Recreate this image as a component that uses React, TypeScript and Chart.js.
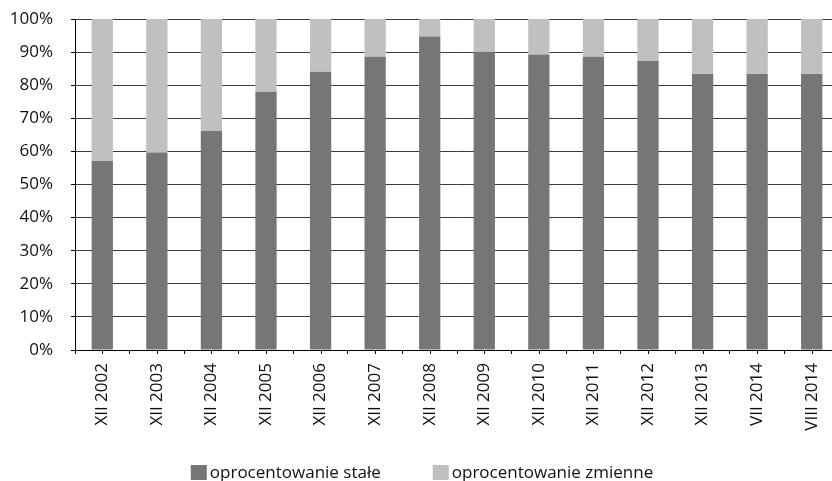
import React, { useEffect, useRef } from "react";
import { Chart, registerables } from "chart.js";

Chart.register(...registerables);

const categories = [
  "XII 2002", "XII 2003", "XII 2004", "XII 2005", "XII 2006", "XII 2007", "XII 2008",
  "XII 2009", "XII 2010", "XII 2011", "XII 2012", "XII 2013", "VII 2014", "VIII 2014",
];

// share of fixed-rate loans (%)
const fixedRate = [57.1, 59.7, 66.2, 78.0, 84.1, 88.6, 94.7, 90.1, 89.3, 88.6, 87.3, 83.4, 83.4, 83.4];
// share of variable-rate loans (%)
const variableRate = [42.9, 40.3, 33.8, 22.0, 15.9, 11.4, 5.3, 9.9, 10.7, 11.4, 12.7, 16.6, 16.6, 16.6];

const seriesNames = ["oprocentowanie stałe", "oprocentowanie zmienne"];
const seriesColors = ["#767676", "#c0c0c0"];

const FONT = "'Open Sans', 'DejaVu Sans', sans-serif";
const TEXT = "#111";

// short marks under each category centre on the x axis
const centerTicks = {
  id: "centerTicks",
  afterDraw(chart: any) {
    const { ctx, chartArea } = chart;
    const xs = chart.scales.x;
    ctx.save();
    ctx.strokeStyle = "#000";
    ctx.lineWidth = 1;
    for (let i = 0; i < categories.length; i++) {
      const px = Math.round(xs.getPixelForValue(i)) + 0.5;
      ctx.beginPath();
      ctx.moveTo(px, chartArea.bottom);
      ctx.lineTo(px, chartArea.bottom + 4);
      ctx.stroke();
    }
    ctx.restore();
  },
};

// legend row at the bottom
const bottomLegend = {
  id: "bottomLegend",
  afterDraw(chart: any) {
    const { ctx } = chart;
    ctx.save();
    ctx.font = `17px ${FONT}`;
    ctx.textBaseline = "alphabetic";
    const boxW = 16;
    const boxH = 15;
    const gap = 3;
    const itemGap = 52;
    const widths = chart.data.datasets.map((d: any) => boxW + gap + ctx.measureText(d.label).width);
    const total = widths.reduce((a: number, b: number) => a + b, 0) + itemGap * (widths.length - 1);
    let x = 422 - total / 2;
    chart.data.datasets.forEach((d: any, i: number) => {
      ctx.fillStyle = d.backgroundColor;
      ctx.fillRect(x, 465, boxW, boxH);
      ctx.fillStyle = TEXT;
      ctx.fillText(d.label, x + boxW + gap, 478);
      x += widths[i] + itemGap;
    });
    ctx.restore();
  },
};

export default function App() {
  const ref = useRef<HTMLCanvasElement>(null);

  useEffect(() => {
    if (!ref.current) return;
    const chart = new Chart(ref.current, {
      type: "bar",
      data: {
        labels: categories,
        datasets: [
          {
            label: seriesNames[0],
            data: fixedRate,
            backgroundColor: seriesColors[0],
            barPercentage: 0.39,
            categoryPercentage: 1,
          },
          {
            label: seriesNames[1],
            data: variableRate,
            backgroundColor: seriesColors[1],
            barPercentage: 0.39,
            categoryPercentage: 1,
          },
        ],
      },
      options: {
        responsive: false,
        animation: false,
        layout: { padding: { top: 19, right: 6, bottom: 36, left: 0 } },
        plugins: {
          legend: { display: false },
          tooltip: { enabled: false },
        },
        scales: {
          x: {
            stacked: true,
            grid: {
              offset: true,
              drawOnChartArea: false,
              drawTicks: true,
              tickLength: 4,
              tickColor: "#000",
            },
            border: { display: true, color: "#000", width: 1 },
            ticks: {
              maxRotation: 90,
              minRotation: 90,
              padding: 9,
              color: TEXT,
              font: { family: FONT, size: 17 },
              autoSkip: false,
            },
            afterFit(scale: any) {
              scale.height = 95;
              scale.paddingLeft = 0;
              scale.paddingRight = 0;
            },
          },
          y: {
            stacked: true,
            min: 0,
            max: 100,
            grid: {
              color: "#3a3a3a",
              lineWidth: 1,
              drawTicks: true,
              tickLength: 4,
              tickColor: "#000",
            },
            border: { display: true, color: "#000", width: 1 },
            ticks: {
              stepSize: 10,
              padding: 18,
              color: TEXT,
              font: { family: FONT, size: 17 },
              callback: (v: any) => `${v}%`,
            },
            afterFit(scale: any) {
              scale.width = 75;
              scale.paddingTop = 0;
              scale.paddingBottom = 0;
            },
          },
        },
      },
      plugins: [centerTicks, bottomLegend],
    });
    return () => chart.destroy();
  }, []);

  return (
    <div
      style={{
        position: "fixed",
        left: 0,
        top: 0,
        width: 832,
        height: 481,
        overflow: "hidden",
        background: "#fff",
      }}
    >
      <canvas ref={ref} width={845} height={481} style={{ display: "block" }} />
    </div>
  );
}
